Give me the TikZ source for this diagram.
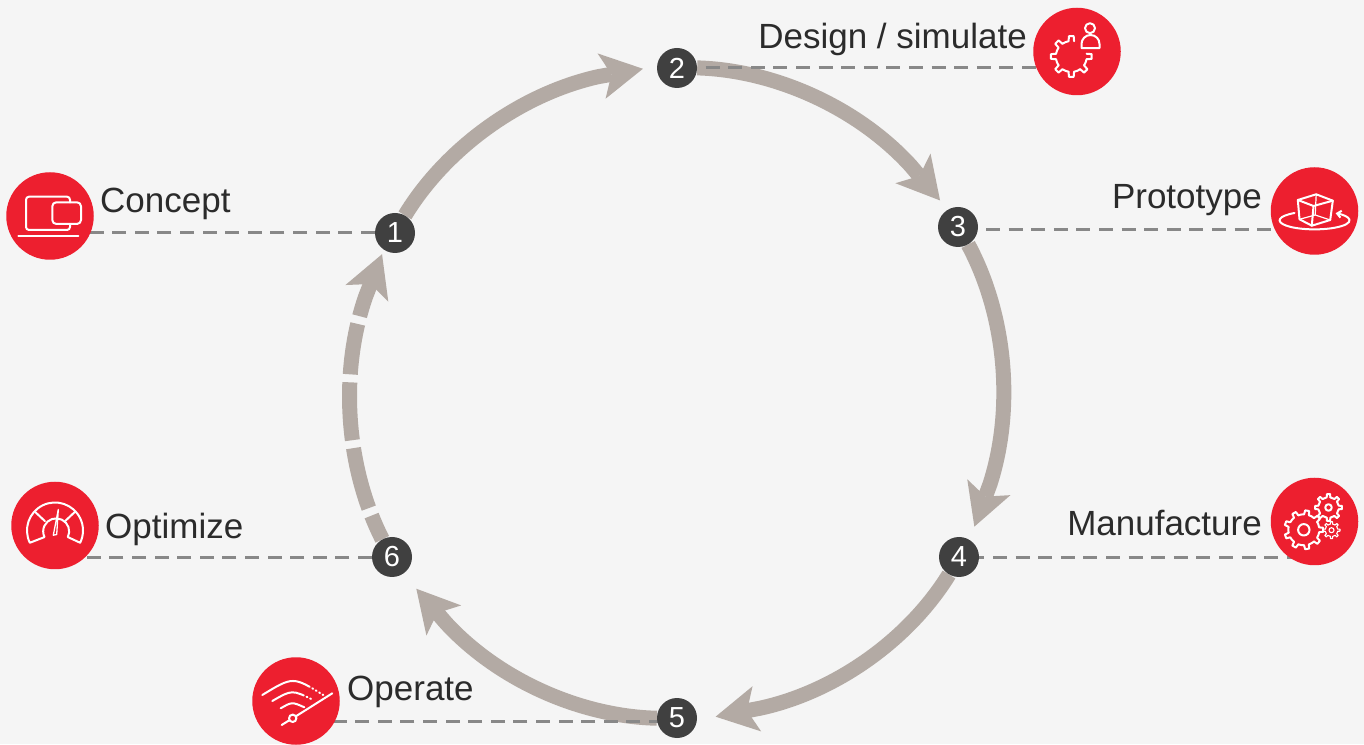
\documentclass[tikz,border=0pt]{standalone}
\usepackage{fontspec}
\setmainfont{Liberation Sans}
\usepackage{tikz}
\usetikzlibrary{arrows.meta, backgrounds, calc}
\definecolor{pagebg}{HTML}{F5F5F5}
\definecolor{ringcol}{HTML}{B3AAA4}
\definecolor{numcol}{HTML}{404040}
\definecolor{leadcol}{HTML}{888888}
\definecolor{iconred}{HTML}{ED1F2F}
\definecolor{labcol}{HTML}{2B2B2B}
\tikzstyle{flow} = [ringcol,line width=15pt,-{Stealth[length=42pt,width=46pt,inset=10pt,line width=0pt]},bend left=23,looseness=0.85]
\tikzstyle{leader} = [draw=leadcol,line width=3pt,dash pattern=on 14pt off 8.6pt]
\def\glw{2pt}
\tikzstyle{glyph} = [draw=white,line width=\glw,line cap=round,line join=round]
% center, inner r, outer r, tooth count of full gear, teeth drawn, first angle
\newcommand{\gearglyph}[6]{
	\pgfmathsetmacro\gstep{360/#4}
	\pgfmathsetmacro\gw{\gstep/4.4}
	\foreach \k in {1,...,#5}{
		\pgfmathsetmacro\a{#6+\k*\gstep-\gstep}
		\pgfmathsetmacro\len{or(\k<#5,#5==#4)*(\gstep-2*\gw)}
		\draw[glyph,shift={(#1)}] (\a-\gw:#2) -- (\a-0.65*\gw:#3) -- (\a+0.65*\gw:#3) -- (\a+\gw:#2) arc[start angle=\a+\gw,delta angle=\len,radius=#2];
	}
}

\begin{document}
\begin{tikzpicture}[x=1pt,y=1pt,
	num node/.style={circle,inner sep=0pt,minimum size=40pt,fill=numcol,text=white,font=\fontsize{29}{30}\selectfont},
	icon node/.style={circle,inner sep=0pt,minimum size=87.5pt,fill=iconred},
	lab node/.style={inner sep=0pt,text=labcol,font=\fontsize{35}{40}\selectfont}]

	\useasboundingbox (0,0) rectangle (1364,744);

	\node[num node] (1) at (395,511) {1};
	\node[num node] (2) at (677,676) {2};
	\node[num node] (3) at (958,517) {3};
	\node[num node] (4) at (959,187) {4};
	\node[num node] (5) at (677,26) {5};
	\node[num node] (6) at (392,187) {6};

	\node[icon node] (icon1) at (50,528) {};
	\node[icon node] (icon2) at (1077,692.5) {};
	\node[icon node] (icon3) at (1314.5,533) {};
	\node[icon node] (icon4) at (1314.5,222.5) {};
	\node[icon node] (icon5) at (296,43) {};
	\node[icon node] (icon6) at (55,218.5) {};

	\node[lab node,anchor=base west] (lab1) at (100,531) {Concept};
	\node[lab node,anchor=base east] (lab2) at (1027,695) {Design / simulate};
	\node[lab node,anchor=base east] (lab3) at (1262,535) {Prototype};
	\node[lab node,anchor=base east] (lab4) at (1262,208) {Manufacture};
	\node[lab node,anchor=base west] (lab5) at (347,44) {Operate};
	\node[lab node,anchor=base west] (lab6) at (105,205) {Optimize};

	\coordinate (ring) at (677,351);
	\coordinate (base2) at ($(ring)+(104:326)$);
	\coordinate (tip2) at ($(ring)+(96:326)$);
	\coordinate (base3) at ($(ring)+(44.2:326)$);
	\coordinate (tip3) at ($(ring)+(36.2:326)$);
	\coordinate (base4) at ($(ring)+(-16.2:326)$);
	\coordinate (tip4) at ($(ring)+(-24.2:326)$);
	\coordinate (base5) at ($(ring)+(-75.2:326)$);
	\coordinate (tip5) at ($(ring)+(-83.2:326)$);
	\coordinate (base6) at ($(ring)+(224.9:326)$);
	\coordinate (tip6) at ($(ring)+(216.9:326)$);
	\coordinate (base1) at ($(ring)+(162.8:326)$);
	\coordinate (tip1) at ($(ring)+(154.8:326)$);

	\begin{pgfonlayer}{background}
	\fill[pagebg] (0,0) rectangle (1364,744);
	\draw[flow] (1) to (base2) -- (tip2);
	\draw[flow] (2) to (base3) -- (tip3);
	\draw[flow] (3) to (base4) -- (tip4);
	\draw[flow] (4) to (base5) -- (tip5);
	\draw[flow] (5) to (base6) -- (tip6);
	\draw[flow,dash pattern=on 26pt off 8pt on 62pt off 8pt on 58pt off 8pt on 51pt off 8pt on 200pt] (6) to (base1) -- (tip1);
	\path[leader]
	(1) edge (1 -| icon1)
	(2) edge[dash phase=14.2pt] (2 -| icon2)
	([yshift=-3pt]3.center) edge[dash phase=17.2pt] ([yshift=-3pt]3.center -| icon3)
	([yshift=-1pt]4.center) edge[dash phase=11.2pt] ([yshift=-1pt]4.center -| icon4)
	([yshift=-3pt]5.center) edge[dash phase=8.5pt] ([yshift=-3pt]5.center -| icon5)
	([yshift=-1pt]6.center) edge[dash phase=2.6pt] ([yshift=-1pt]6.center -| icon6);
	\end{pgfonlayer}

	% concept
	\begin{scope}[shift={(icon1.center)}]
	\draw[glyph,rounded corners=3pt] (20,13.7) -- (20,19.3) -- (-24,19.3) -- (-24,-14) -- (20,-14) -- (20,-8);
	\draw[glyph,rounded corners=4pt] (2.3,-8) rectangle (31,13.7);
	\draw[glyph] (-31.7,-19.7) -- (28.3,-19.7);
	\end{scope}

	% design
	\gearglyph{$(icon2.center)+(-5.7,-5)$}{15.5}{20.5}{8}{7}{90}
	\begin{scope}[shift={(icon2.center)}]
	\draw[glyph] (13,23.3) circle (5);
	\draw[glyph] (4.5,3.3) -- (4.5,7.5) arc[start angle=180,end angle=0,radius=9] -- (22.5,3.3) -- cycle;
	\end{scope}

	% prototype
	\begin{scope}[shift={(icon3.center)}]
	\draw[glyph] (-16.7,11) -- (1.7,16.7) -- (18.3,10.3) -- (15.7,-9) -- (-2.7,-14.7) -- (-15,-8.3) -- cycle;
	\draw[glyph] (-16.7,11) -- (-1,5) -- (18.3,10.3) (-1,5) -- (-2.7,-14.7);
	\draw[glyph,line width=1.2pt] (1.7,16.7) -- (0.7,-4) -- (-15,-8.3) (0.7,-4) -- (15.7,-9);
	\draw[glyph,-{Straight Barb[length=4pt,width=7pt]}] (-20,-2) arc[start angle=125,end angle=413,x radius=35,y radius=9];
	\end{scope}

	% manufacture
	\gearglyph{$(icon4.center)+(-10.7,-8.3)$}{15.5}{19.5}{9}{9}{0}
	\gearglyph{$(icon4.center)+(14,14)$}{10.3}{13.5}{8}{8}{0}
	{\def\glw{1.1pt}
	\gearglyph{$(icon4.center)+(17,-8.7)$}{6.3}{8.5}{8}{8}{0}
	\draw[glyph,shift={(icon4.center)}] (17,-8.7) circle (2.5);}
	\begin{scope}[shift={(icon4.center)}]
	\draw[glyph] (-10.7,-8.3) circle (5.7);
	\draw[glyph] (14,14) circle (3.3);
	\end{scope}

	% operate
	\begin{scope}[shift={(icon5.center)}]
	\draw[glyph] (-14.3,-24) -- (-6.6,-19.2) (0,-15.2) -- (36.3,7.7);
	\draw[glyph] (-3.3,-17.3) circle (3.7);
	\draw[glyph,dash pattern=on 52pt off 3pt on 1pt off 3pt on 1pt off 3pt on 1pt off 3pt on 1pt] (-33.7,6) .. controls (-3,24.7) .. (27.3,6);
	\draw[glyph,dash pattern=on 34pt off 3pt on 1pt off 3pt on 1pt] (-23.7,0) .. controls (-4,11.4) .. (17.3,1);
	\draw[glyph] (-15.3,-7.3) .. controls (-4,-0.8) .. (8.3,-6.3);
	\end{scope}

	% optimize
	\begin{scope}[shift={(icon6.center)}]
	\draw[glyph] (206:28) ++(0,-5) arc[start angle=206,end angle=-26,radius=28] -- ++(-12.3,5.7) arc[start angle=-26,end angle=206,radius=13] -- cycle;
	\draw[glyph] (-20,13.7) -- (-10,4.3) (20,13.7) -- (10,4.3);
	\draw[glyph,fill=iconred,line width=1.3pt] (3.3,16) -- (1.7,-9) -- (-1.7,-9.7) -- cycle;
	\end{scope}
\end{tikzpicture}
\end{document}
